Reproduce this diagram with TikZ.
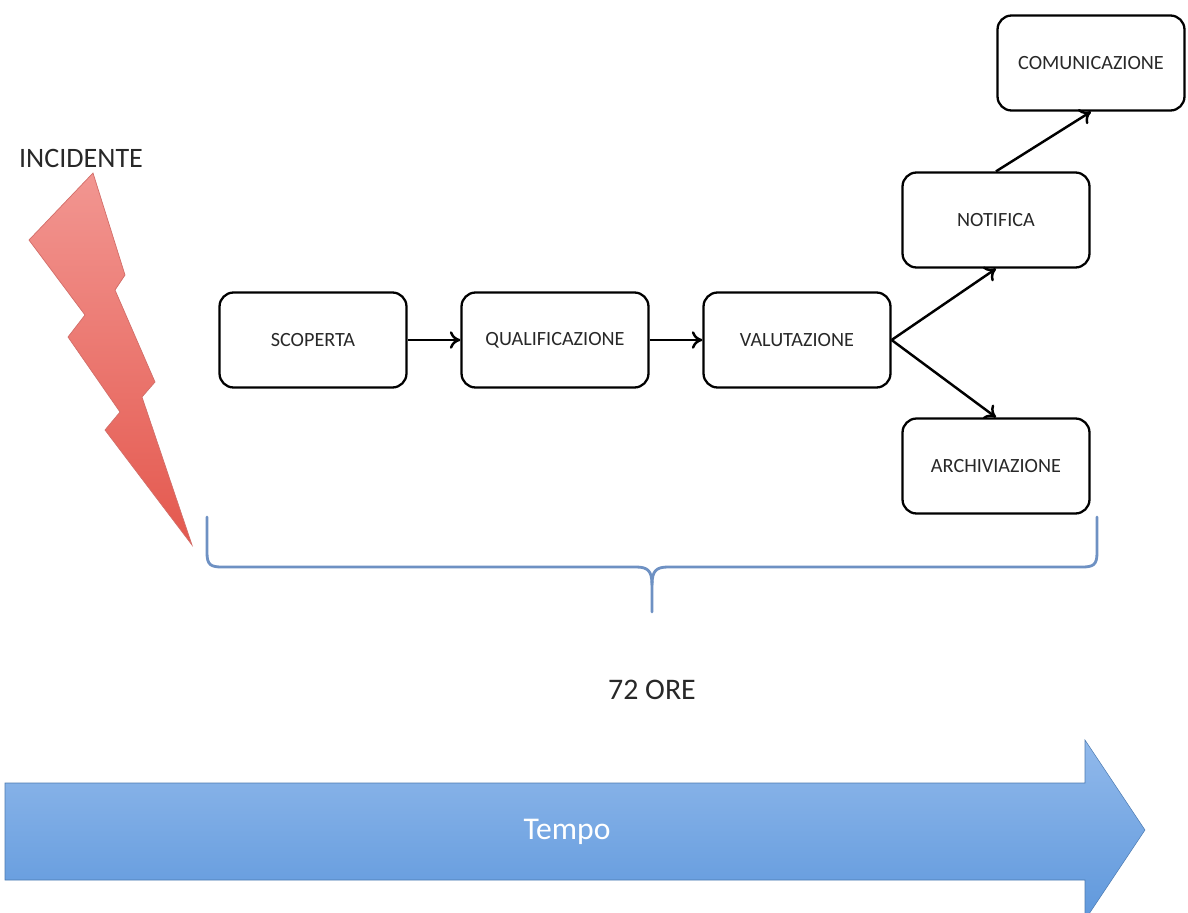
\documentclass[tikz,border=0pt]{standalone}
\usepackage{fontspec}
\setmainfont{Carlito}
\usetikzlibrary{arrows.meta}
\definecolor{boltedge}{RGB}{210,110,105}
\definecolor{bolttop}{RGB}{242,150,145}
\definecolor{boltbot}{RGB}{228,88,78}
\definecolor{bracecol}{RGB}{110,145,195}
\definecolor{timetop}{RGB}{145,185,235}
\definecolor{timebot}{RGB}{95,152,220}
\definecolor{inkgray}{RGB}{40,40,40}
\begin{document}
\begin{tikzpicture}[x=0.02cm,y=-0.02cm, text=inkgray,
  box/.style={draw=black, line width=1.3pt, rounded corners=8pt, minimum width=3.74cm, minimum height=1.9cm, font=\fontsize{11.5}{13}\selectfont},
  link/.style={-{To[length=6pt,width=10pt]}, line width=1.4pt}]
\useasboundingbox (0,0) rectangle (1188,913);
% lightning
\shade[top color=bolttop, bottom color=boltbot, draw=boltedge, line width=0.4pt]
  (93,173) -- (125,275) -- (115,290) -- (155,382) -- (142,397) -- (192,545)
  -- (105,430) -- (120,412) -- (68,337) -- (85,315) -- (29,240) -- cycle;
\node (incidente) at (81,158) {\fontsize{16}{18}\selectfont INCIDENTE};
% steps
\node[box] (scoperta) at (313,340) {SCOPERTA};
\node[box] (qualifica) at (555,340) {QUALIFICAZIONE};
\node[box] (valuta) at (797,340) {VALUTAZIONE};
\node[box] (notifica) at (996,220) {NOTIFICA};
\node[box] (archivia) at (996,466) {ARCHIVIAZIONE};
\node[box] (comunica) at (1091,63) {COMUNICAZIONE};
\draw[link] (scoperta) -- (qualifica);
\draw[link] (qualifica) -- (valuta);
\draw[link] (valuta.east) -- (notifica.south);
\draw[link] (valuta.east) -- (archivia.north);
\draw[link] (notifica.north) -- (comunica.south);
% brace
\draw[bracecol, line width=1.6pt, line cap=round]
  (207,517) -- (207,553) .. controls (207,565) and (211,567) .. (222,567)
  -- (636,567) .. controls (648,567) and (652,571) .. (652,585) -- (652,612);
\draw[bracecol, line width=1.6pt, line cap=round]
  (1097,517) -- (1097,553) .. controls (1097,565) and (1093,567) .. (1082,567)
  -- (668,567) .. controls (656,567) and (652,571) .. (652,585);
\node (ore) at (652,690) {\fontsize{17}{19}\selectfont 72 ORE};
% time arrow
\shade[top color=timetop, bottom color=timebot, draw=timebot!80!black, line width=0.3pt]
  (5,783) -- (1085,783) -- (1085,740) -- (1145,830) -- (1085,920) -- (1085,880) -- (5,880) -- cycle;
\node[text=white] (tempo) at (567,832) {\fontsize{18}{20}\selectfont Tempo};
\end{tikzpicture}
\end{document}
